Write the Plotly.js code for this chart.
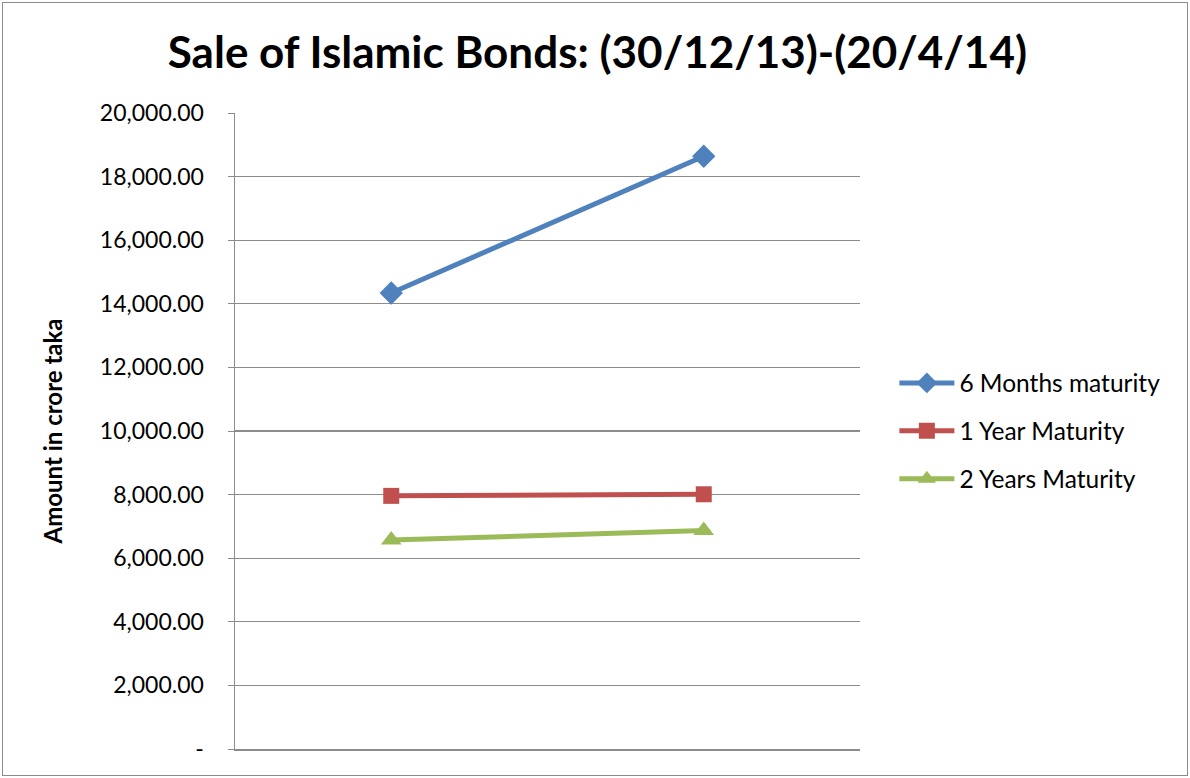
<!DOCTYPE html>
<html>
<head>
<meta charset="utf-8">
<script src="https://cdn.plot.ly/plotly-3.0.1.min.js"></script>
<style>
html,body{margin:0;padding:0;background:#fff;}
#frame{position:absolute;left:2px;top:2px;width:1184px;height:772px;border:1px solid #8c8c8c;}
#chart{position:absolute;left:0;top:0;width:1190px;height:778px;}
</style>
</head>
<body>
<div id="frame"></div>
<div id="chart"></div>
<script>
const categories = ["30/12/13", "20/4/14"];
const sixMonths = [14340, 18640];
const oneYear = [7960, 8010];
const twoYears = [6570, 6870];
const seriesNames = ["6 Months maturity", "1 Year Maturity", "2 Years Maturity"];
const tickValues = [0, 2000, 4000, 6000, 8000, 10000, 12000, 14000, 16000, 18000, 20000];
const tickLabels = ["-", "2,000.00", "4,000.00", "6,000.00", "8,000.00", "10,000.00", "12,000.00", "14,000.00", "16,000.00", "18,000.00", "20,000.00"];

const font = "Lato, 'Open Sans', sans-serif";
const traces = [
  {x: categories, y: sixMonths, name: seriesNames[0], legendgroup: "a", mode: "lines+markers",
   line: {color: "#4F81BD", width: 5}, marker: {symbol: "diamond", size: 18, color: "#4F81BD"}},
  {x: categories, y: oneYear, name: seriesNames[1], legendgroup: "b", mode: "lines+markers",
   line: {color: "#C0504D", width: 5}, marker: {symbol: "square", size: 16, color: "#C0504D"}},
  {x: categories, y: twoYears, name: seriesNames[2], legendgroup: "c", mode: "lines+markers",
   line: {color: "#9BBB59", width: 5}, marker: {symbol: "triangle-up", size: 18, color: "#9BBB59"}}
];
const layout = {
  width: 1190, height: 778,
  paper_bgcolor: "rgba(0,0,0,0)", plot_bgcolor: "rgba(0,0,0,0)",
  margin: {l: 235, r: 330, t: 113, b: 29, pad: 0},
  font: {family: font, size: 20, color: "#000"},
  title: {text: "<b>Sale of Islamic Bonds: (30/12/13)-(20/4/14)</b>", x: 0.502, xref: "container", xanchor: "center",
          y: 0.932, yref: "container", yanchor: "middle",
          font: {family: font, size: 44, color: "#000"}},
  showlegend: true,
  legend: {x: 1.055, xanchor: "left", y: 0.5, yanchor: "middle", font: {family: font, size: 24.5, color: "#000"},
           itemwidth: 55, tracegroupgap: 13, bgcolor: "rgba(0,0,0,0)"},
  xaxis: {type: "category", range: [-0.5, 1.5], showticklabels: false, showgrid: false,
          showline: true, linecolor: "#8c8c8c", linewidth: 1.5, ticks: "", zeroline: false, fixedrange: true},
  yaxis: {range: [0, 20000], tickvals: tickValues, ticktext: tickLabels, showgrid: true,
          gridcolor: "#8c8c8c", gridwidth: 1.2, showline: true, linecolor: "#8c8c8c", linewidth: 1.5,
          zeroline: false, ticks: "outside", ticklen: 6, tickcolor: "#8c8c8c", ticklabelstandoff: 19,
          tickfont: {family: font, size: 23, color: "#000"},
          title: {text: "<b>Amount in crore taka</b>", standoff: 30, font: {family: font, size: 24, color: "#000"}}}
};
Plotly.newPlot("chart", traces, layout, {displayModeBar: false, staticPlot: true});
</script>
</body>
</html>
